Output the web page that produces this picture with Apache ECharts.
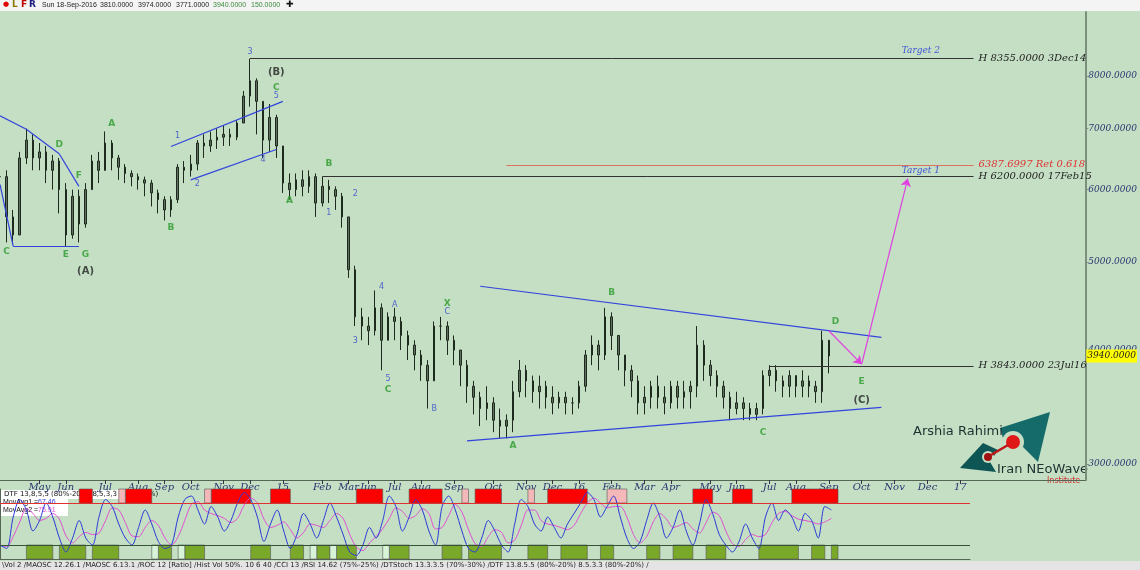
<!doctype html>
<html>
<head>
  <meta charset="utf-8">
  <script src="https://cdn.jsdelivr.net/npm/echarts@6/dist/echarts.min.js"></script>
</head>
<body>
  <style>
    html, body { width: 100%; height: 100%; margin: 0; background-color: #c4dfc4; }
    #main { width: 1140px; height: 570px; }
  </style>
  <div id="main"></div>
  <script>
    // weekly bars, Apr 2014 .. 18 Sep 2016
    var closes = [
      6200,5600,5350,6500,6800,6500,6600,6300,6450,6000,
      5350,5900,5500,6000,6450,6300,6750,6500,6350,6250,
      6200,6150,6100,5950,5850,5700,5850,6350,6300,6400,
      6750,6700,6800,6850,6900,6850,7100,7600,7900,7500,
      6800,7200,6700,6100,6000,6150,6050,6200,5800,6050,
      6000,5900,5600,4900,4350,4250,4200,4450,4100,4350,
      4300,4150,4050,3950,3850,3700,4250,4250,4100,4000,
      3850,3650,3550,3450,3500,3350,3300,3350,3600,3800,
      3700,3600,3650,3550,3500,3550,3500,3500,3650,3950,
      4050,3950,4350,4150,3950,3800,3700,3500,3550,3650,
      3550,3500,3650,3550,3600,3650,4050,3850,3750,3650,
      3550,3450,3500,3450,3400,3450,3750,3800,3700,3650,
      3750,3650,3700,3650,3600,4100,3940
    ];
    var lows = [
      5700,5250,5250,5350,6400,6300,6300,6100,6000,5650,
      5200,5300,5250,5450,6000,6100,6350,6300,6150,6100,
      6050,6000,5900,5750,5650,5550,5600,5800,6100,6200,
      6300,6500,6600,6650,6700,6700,6800,7100,7400,6900,
      6500,6600,6500,5950,5850,5900,5900,5950,5600,5750,
      5800,5700,5450,4800,4250,4100,4050,4150,3800,4100,
      4100,4000,3900,3800,3700,3450,3700,4100,3950,3850,
      3650,3500,3400,3300,3350,3250,3200,3200,3250,3550,
      3550,3500,3450,3450,3400,3450,3400,3400,3450,3600,
      3850,3800,3900,4000,3800,3650,3550,3400,3400,3450,
      3450,3400,3450,3450,3450,3450,3550,3700,3650,3550,
      3450,3350,3400,3350,3350,3350,3400,3650,3600,3550,
      3550,3550,3550,3550,3500,3500,3771
    ];
    var highs = [
      6500,6300,5700,6600,7000,6900,6750,6700,6550,6500,
      6100,6000,6000,6100,6550,6600,6950,6800,6550,6400,
      6300,6250,6200,6150,6000,5900,5900,6400,6450,6550,
      6800,6900,6950,7000,7050,7000,7150,7700,8355,7950,
      7500,7450,7250,6700,6250,6250,6300,6300,6250,6200,
      6150,6050,5950,5600,4950,4450,4350,4650,4500,4400,
      4450,4350,4200,4100,4000,3900,4300,4350,4300,4150,
      4000,3900,3700,3600,3650,3550,3450,3400,3700,3900,
      3850,3750,3750,3700,3650,3600,3600,3550,3700,4000,
      4150,4100,4450,4400,4150,3950,3850,3750,3650,3700,
      3750,3650,3700,3700,3700,3700,4250,4100,3900,3800,
      3700,3600,3600,3550,3500,3500,3800,3850,3850,3750,
      3800,3750,3800,3750,3700,4200,3974
    ];
    var totalSlots = 166;      // incl. empty future weeks
    var panelSlots = 148;
    var monthIdx   = [6,10,16,21,25,29,34,38,43,49,53,56,60,64,69,75,80,84,88,93,98,102,108,112,117,121,126,131,136,141,146];
    var monthNames = ['May','Jun','Jul','Aug','Sep','Oct','Nov','Dec','15','Feb','Mar','Jun','Jul','Aug','Sep','Oct','Nov','Dec','16','Feb','Mar','Apr','May','Jun','Jul','Aug','Sep','Oct','Nov','Dec','17'];
    var priceTicks = [3000, 4000, 5000, 6000, 7000, 8000];
    var headerFields = [['Sun 18-Sep-2016', 42, '#222'], ['3810.0000', 100, '#222'], ['3974.0000', 138, '#222'],
      ['3771.0000', 176, '#222'], ['3940.0000', 213, '#3a8a3a'], ['150.0000', 251, '#3a8a3a']];

    // horizontal levels: [startIdx, price, label, color]
    var levels = [
      [38, 8355, 'H 8355.0000 3Dec14', '#222'],
      [77, 6387.6997, '6387.6997 Ret 0.618', '#e03030'],
      [49, 6200, 'H 6200.0000 17Feb15', '#222'],
      [117, 3843, 'H 3843.0000 23Jul16', '#222']
    ];
    // trend lines: [[i1,p1],[i2,p2]]
    var trendLines = [
      [[0,7230],[4,6990]], [[4,6990],[9,6570]], [[9,6570],[12,6050]],
      [[0,6080],[2,5200]], [[2,5200],[12,5200]],
      [[26,6690],[43,7500]], [[29,6150],[42,6640]],
      [[73,4700],[134,4130]], [[71,3180],[134,3460]]
    ];
    var arrowLegs = [[[126,4200],[131,3860]], [[131,3860],[138,6170]]];

    var greenLabels = [[1,5130,'C'],[9,6720,'D'],[12,6220,'F'],[10,5090,'E'],[13,5090,'G'],[17,7090,'A'],[26,5450,'B'],
      [42,7760,'C'],[44,5830,'A'],[50,6410,'B'],[59,3620,'C'],[68,4500,'X'],[78,3140,'A'],[93,4620,'B'],[116,3250,'C'],[127,4300,'D'],[131,3690,'E']];
    var blueLabels = [[38,8500,'3'],[42,7600,'5'],[27,6880,'1'],[30,6090,'2'],[40,6460,'4'],[50,5650,'1'],[54,5940,'2'],
      [58,4690,'4'],[54,4090,'3'],[59,3720,'5'],[60,4480,'A'],[68,4400,'C'],[66,3445,'B']];
    var waveLabels = [[13,4880,'(A)'],[42,8060,'(B)'],[131,3520,'(C)']];
    var targets = [[140,8530,'Target 2'],[140,6290,'Target 1']];

    // DTF oscillator
    var dtf = [
      20,15,60,85,70,40,55,80,60,30,
      10,30,55,30,20,60,85,75,50,30,
      20,45,70,50,25,15,20,60,85,90,
      70,50,75,60,40,55,80,95,85,60,
      25,50,70,40,15,35,65,50,30,55,
      80,60,35,10,5,20,45,30,55,90,
      75,40,60,85,70,40,20,75,90,70,
      40,15,10,30,55,40,20,10,50,85,
      75,50,40,60,45,30,50,65,80,95,
      85,60,75,90,60,30,15,25,55,80,
      60,30,45,70,40,20,50,85,65,35,
      20,10,25,50,30,15,60,80,55,70,
      60,40,65,55,30,75,70
    ];
    var redZones  = [[12,13],[19,22],[32,37],[41,43],[54,57],[62,66],[72,75],[83,88],[105,107],[111,113],[120,126]];
    var pinkZones = [[18,18],[31,31],[70,70],[80,80],[92,94]];
    var greenZones = [[4,7],[9,12],[14,17],[24,25],[28,30],[38,40],[44,45],[48,49],[51,53],[59,61],[67,69],[71,75],[80,82],[85,88],[91,92],[98,99],[102,104],[107,109],[115,120],[123,124],[126,126]];
    var paleZones = [[23,23],[27,27],[47,47],[50,50],[58,58]];

    var chart = echarts.init(document.getElementById('main'));

    var cats = [], labelMap = {};
    for (var i = 0; i < totalSlots; i++) cats.push(String(i));
    monthIdx.forEach(function (m, k) { labelMap[m] = monthNames[k]; });

    var ohlc = closes.map(function (c, i) {
      var o = i === 0 ? c : closes[i - 1];
      return [o, c, lows[i], highs[i]];
    });
    var ma2 = dtf.map(function (v, i) {
      var a = dtf[Math.max(0, i - 1)], b = dtf[Math.max(0, i - 2)];
      return Math.round((v + a + b) / 3);
    });

    var serif = 'DejaVu Serif';
    function textSeries(list, color, size, weight, family, style) {
      return {
        type: 'scatter', xAxisIndex: 0, yAxisIndex: 0, symbolSize: 0, silent: true,
        data: list.map(function (d) { return { value: [String(d[0]), d[1]], name: d[2] }; }),
        label: { show: true, position: 'inside', formatter: '{b}', color: color, fontSize: size,
          fontWeight: weight, fontFamily: family || 'DejaVu Sans', fontStyle: style || 'normal' }
      };
    }
    function zones(list, lo, hi, color) {
      return list.map(function (z) {
        return [{ xAxis: String(z[0]), yAxis: lo, itemStyle: { color: color, borderColor: '#555', borderWidth: 0.6 } },
                { xAxis: String(z[1] + 1), yAxis: hi }];
      });
    }

    var markLines = levels.map(function (l) {
      return [{ coord: [String(l[0]), l[1]], lineStyle: { color: l[3] === '#222' ? '#333' : '#e07060', width: 1, type: 'solid' },
                label: { show: true, position: 'end', formatter: l[2], color: l[3], fontFamily: serif, fontStyle: 'italic', fontSize: 10 } },
              { coord: ['148', l[1]] }];
    });
    trendLines.forEach(function (t) {
      markLines.push([{ coord: [String(t[0][0]), t[0][1]], lineStyle: { color: '#3344dd', width: 1.2, type: 'solid' }, label: { show: false } },
                      { coord: [String(t[1][0]), t[1][1]] }]);
    });
    var arrowLines = arrowLegs.map(function (a) {
      return [{ coord: [String(a[0][0]), a[0][1]], symbol: 'none' }, { coord: [String(a[1][0]), a[1][1]], symbol: 'arrow' }];
    });

    var option = {
      backgroundColor: '#c4dfc4',
      animation: false,
      grid: [
        { left: 0, right: 54, top: 12, height: 468 },
        { left: 0, right: 170, top: 489, height: 70 }
      ],
      xAxis: [{
        type: 'category', data: cats, gridIndex: 0, boundaryGap: false,
        axisLine: { show: true, lineStyle: { color: '#556655' } },
        axisTick: { show: true, interval: function (idx) { return labelMap[idx] !== undefined; }, length: 4, lineStyle: { color: '#334' } },
        axisLabel: { interval: function (idx) { return labelMap[idx] !== undefined; }, formatter: function (v) { return labelMap[v] || ''; },
          color: '#2a3570', fontFamily: serif, fontStyle: 'italic', fontSize: 10, margin: 2 }
      }, {
        type: 'category', data: cats.slice(0, panelSlots), gridIndex: 1, boundaryGap: false,
        axisLine: { show: true, lineStyle: { color: '#556655' } }, axisTick: { show: false }, axisLabel: { show: false }
      }],
      yAxis: [{
        type: 'log', logBase: 10, min: 2880, max: 9400, gridIndex: 0, position: 'right',
        axisLine: { show: true, lineStyle: { color: '#7a907a', width: 2 } },
        axisTick: { show: true, customValues: priceTicks, length: 3, inside: false },
        axisLabel: { customValues: priceTicks, formatter: function (v) { return Number(v).toFixed(4); },
          color: '#2a3570', fontFamily: serif, fontStyle: 'italic', fontSize: 9, margin: 3 },
        splitLine: { show: false }
      }, {
        type: 'value', min: 0, max: 100, gridIndex: 1, show: true,
        axisLine: { show: true, lineStyle: { color: '#556655' } }, axisTick: { show: false }, axisLabel: { show: false }, splitLine: { show: false }
      }],
      series: [{
        type: 'candlestick', xAxisIndex: 0, yAxisIndex: 0, data: ohlc, barMaxWidth: 2,
        itemStyle: { color: '#5f705f', color0: '#5f705f', borderColor: '#1e2a1e', borderColor0: '#1e2a1e', borderWidth: 1 },
        markLine: { symbol: 'none', silent: true, data: markLines },
        markPoint: {
          silent: true, symbol: 'rect', symbolSize: [0, 0],
          data: [{ coord: ['165', 3940], label: { show: true, position: 'right', offset: [-4, 0], formatter: '3940.0000',
            backgroundColor: '#ffff00', color: '#222', fontFamily: serif, fontStyle: 'italic', fontSize: 9, padding: [2, 1] } }]
        }
      }, {
        type: 'line', xAxisIndex: 0, yAxisIndex: 0, data: [], silent: true,
        markLine: { silent: true, symbolSize: 8, label: { show: false }, lineStyle: { color: '#e040e0', width: 1.2, type: 'solid' }, data: arrowLines }
      },
        textSeries(greenLabels, '#2a9a2a', 9, 'bold'),
        textSeries(blueLabels, '#3344cc', 8, 'normal'),
        textSeries(waveLabels, '#222', 10, 'bold'),
        textSeries(targets, '#2233dd', 9, 'normal', serif, 'italic'),
      {
        type: 'line', xAxisIndex: 1, yAxisIndex: 1, data: ma2, symbol: 'none', smooth: 0.3,
        lineStyle: { color: '#e050d0', width: 1 },
        markArea: { silent: true, data: zones(redZones, 80, 100, '#ff0000').concat(zones(pinkZones, 80, 100, '#f4b8b8'))
          .concat(zones(greenZones, 0, 20, '#7aa828')).concat(zones(paleZones, 0, 20, '#d8f4d8')) },
        markLine: { symbol: 'none', silent: true, label: { show: false },
          data: [{ yAxis: 80, lineStyle: { color: '#e03030', width: 1, type: 'solid' } },
                 { yAxis: 20, lineStyle: { color: '#335533', width: 1, type: 'solid' } }] }
      }, {
        type: 'line', xAxisIndex: 1, yAxisIndex: 1, data: dtf, symbol: 'none', smooth: 0.3,
        lineStyle: { color: '#2a3ad8', width: 1 }
      }],
      graphic: [
        { type: 'rect', left: 0, top: 0, shape: { width: 1140, height: 11 }, style: { fill: '#f4f4f4' } },
        { type: 'text', left: 3, top: 1, style: { text: '●', fill: '#e00000', fontSize: 7, fontFamily: 'DejaVu Sans' } },
        { type: 'text', left: 12, top: 0, style: { text: 'L', fill: '#8a7a00', fontSize: 9, fontWeight: 'bold', fontFamily: 'DejaVu Sans' } },
        { type: 'text', left: 21, top: 0, style: { text: 'F', fill: '#c00000', fontSize: 9, fontWeight: 'bold', fontFamily: 'DejaVu Sans' } },
        { type: 'text', left: 29, top: 0, style: { text: 'R', fill: '#1a1a80', fontSize: 9, fontWeight: 'bold', fontFamily: 'DejaVu Sans' } }
      ].concat(headerFields.map(function (h) {
        return { type: 'text', left: h[1], top: 2, style: { text: h[0], fill: h[2], fontSize: 7, fontFamily: 'Liberation Sans' } };
      })).concat([
        { type: 'text', left: 286, top: 0, style: { text: '✚', fill: '#111', fontSize: 9, fontFamily: 'DejaVu Sans' } },
        { type: 'rect', left: 0, top: 490, shape: { width: 68, height: 26 }, style: { fill: '#ffffff' } },
        { type: 'rect', left: 0, top: 490, shape: { width: 146, height: 9 }, style: { fill: '#ffffff' } },
        { type: 'text', left: 4, top: 491, style: { text: 'DTF 13,8,5,5 (80%-20%) 8,5,3,3 (80%-20%)', fill: '#111', fontSize: 7, fontFamily: 'DejaVu Sans' } },
        { type: 'text', left: 3, top: 499, style: { rich: { a: { fill: '#111', fontSize: 7 }, b: { fill: '#2a3ad8', fontSize: 7 } }, text: '{a|MovAvg1 =}{b|67.46}' } },
        { type: 'text', left: 3, top: 507, style: { rich: { a: { fill: '#111', fontSize: 7 }, b: { fill: '#e050d0', fontSize: 7 } }, text: '{a|MovAvg2 =}{b|75.91}' } },
        { type: 'rect', left: 0, top: 561, shape: { width: 1140, height: 9 }, style: { fill: '#e4e4e4' } },
        { type: 'text', left: 2, top: 562, style: { text: '\\Vol 2 /MAOSC 12.26.1 /MAOSC 6.13.1 /ROC 12 [Ratio] /Hist Vol 50%. 10 6 40 /CCI 13 /RSI 14.62 (75%-25%) /DTStoch 13.3.3.5 (70%-30%) /DTF 13.8.5.5 (80%-20%) 8.5.3.3 (80%-20%) /', fill: '#222', fontSize: 7, fontFamily: 'DejaVu Sans' } },
        // logo
        { type: 'polygon', shape: { points: [[1000, 428], [1050, 412], [1038, 462], [1022, 446], [1006, 448]] }, style: { fill: '#156a6a' } },
        { type: 'polygon', shape: { points: [[960, 468], [983, 443], [998, 450], [990, 462], [996, 472]] }, style: { fill: '#0e5555' } },
        { type: 'circle', shape: { cx: 1013, cy: 442, r: 11 }, style: { fill: '#c4dfc4' } },
        { type: 'circle', shape: { cx: 1013, cy: 442, r: 7 }, style: { fill: '#e01818' } },
        { type: 'circle', shape: { cx: 988, cy: 457, r: 6 }, style: { fill: '#c4dfc4' } },
        { type: 'circle', shape: { cx: 988, cy: 457, r: 4 }, style: { fill: '#a01010' } },
        { type: 'line', shape: { x1: 991, y1: 455, x2: 1008, y2: 445 }, style: { stroke: '#c01818', lineWidth: 2.5 } },
        { type: 'text', left: 913, top: 425, style: { text: 'Arshia Rahimi', fill: '#1e3030', fontSize: 13, fontFamily: 'DejaVu Sans' } },
        { type: 'text', left: 997, top: 463, style: { text: 'Iran NEoWave', fill: '#1e3030', fontSize: 13, fontFamily: 'DejaVu Sans' } },
        { type: 'text', left: 1047, top: 477, style: { text: 'Institute', fill: '#d03030', fontSize: 8, fontFamily: 'DejaVu Sans' } }
      ])
    };

    chart.setOption(option);
  </script>
</body>
</html>
